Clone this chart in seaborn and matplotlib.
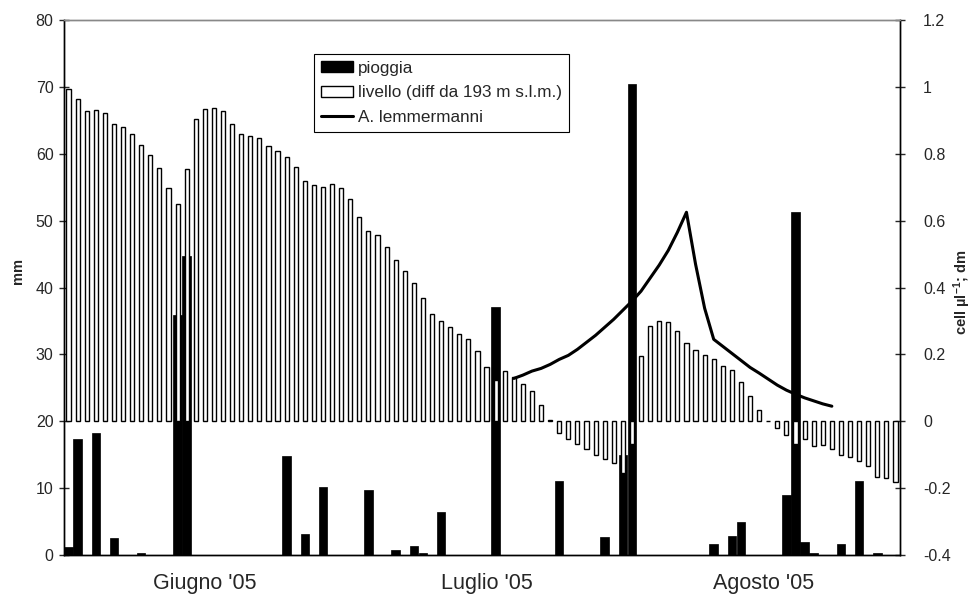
import numpy as np
import matplotlib
matplotlib.use("Agg")
import matplotlib.pyplot as plt
import seaborn as sns
from matplotlib.patches import Patch
from matplotlib.lines import Line2D
from matplotlib.ticker import FuncFormatter

# daily values, 1 June - 31 August 2005 (92 days)
days = list(range(92))

# pioggia (mm)
rain = [1.25, 17.3, 0, 18.3, 0, 2.6, 0, 0, 0.3, 0,
        0, 0, 35.9, 44.7, 0, 0, 0, 0, 0, 0,
        0, 0, 0, 0, 14.85, 0, 3.1, 0, 10.1, 0,
        0, 0, 0, 9.7, 0, 0, 0.7, 0, 1.35, 0.3,
        0, 6.5, 0, 0, 0, 0, 0, 37.1, 0, 0,
        0, 0, 0, 0, 11.1, 0, 0, 0, 0, 2.7,
        0, 15.0, 70.5, 0, 0, 0, 0, 0, 0, 0,
        0, 1.7, 0, 2.9, 4.9, 0, 0, 0, 0, 8.9,
        51.3, 1.9, 0.3, 0, 0, 1.7, 0, 11.1, 0, 0.3,
        0, 0]

# livello (dm, diff da 193 m s.l.m.)
level = [0.993, 0.963, 0.928, 0.931, 0.922, 0.889, 0.880, 0.860, 0.827, 0.796,
         0.757, 0.698, 0.650, 0.753, 0.903, 0.933, 0.938, 0.928, 0.889, 0.859,
         0.854, 0.846, 0.822, 0.807, 0.789, 0.760, 0.719, 0.707, 0.701, 0.711,
         0.697, 0.665, 0.611, 0.568, 0.558, 0.521, 0.482, 0.448, 0.414, 0.369,
         0.320, 0.301, 0.282, 0.262, 0.246, 0.209, 0.162, 0.123, 0.150, 0.133,
         0.110, 0.091, 0.050, 0.003, -0.034, -0.052, -0.067, -0.082, -0.102, -0.112,
         -0.124, -0.156, -0.067, 0.195, 0.284, 0.299, 0.297, 0.270, 0.234, 0.212,
         0.199, 0.186, 0.164, 0.152, 0.116, 0.076, 0.033, 0.0, -0.019, -0.042,
         -0.067, -0.054, -0.074, -0.072, -0.082, -0.100, -0.107, -0.119, -0.133, -0.167,
         -0.171, -0.182]

# A. lemmermanni (cell/ul)
algae_days = list(range(49, 85))
algae = [0.128, 0.138, 0.150, 0.158, 0.170, 0.185, 0.197, 0.215, 0.236, 0.257,
         0.281, 0.305, 0.332, 0.359, 0.389, 0.428, 0.467, 0.511, 0.565, 0.625,
         0.470, 0.338, 0.245, 0.224, 0.203, 0.182, 0.161, 0.144, 0.126, 0.108,
         0.093, 0.081, 0.070, 0.061, 0.052, 0.045]

month_labels = ["Giugno '05", "Luglio '05", "Agosto '05"]
month_pos = [15, 46, 76.5]
month_edges = [-0.5, 30.5, 61.5, 91.5]

sns.set_style("white")
plt.rcParams['font.family'] = ['Liberation Sans', 'DejaVu Sans']
plt.rcParams['mathtext.fontset'] = 'custom'
plt.rcParams['mathtext.rm'] = 'Liberation Sans:bold'
plt.rcParams['mathtext.default'] = 'rm'

fig = plt.figure(figsize=(9.72, 6.03), dpi=100)
ax = fig.add_axes([64 / 972, 48 / 603, 836 / 972, 535 / 603])
ax2 = ax.twinx()

sns.barplot(x=days, y=rain, color='black', edgecolor='black', linewidth=0.5,
            width=0.93, saturation=1, errorbar=None, ax=ax)
sns.barplot(x=days, y=level, color='white', edgecolor='black', linewidth=1.0,
            width=0.45, saturation=1, errorbar=None, ax=ax2)
sns.lineplot(x=algae_days, y=algae, color='black', linewidth=2.2, ax=ax2)

ax.set_xlim(-0.5, 91.5)
ax.set_ylim(0, 80)
ax2.set_ylim(-0.4, 1.2)
ax.set_yticks(np.arange(0, 81, 10))
ax2.set_yticks(np.arange(-0.4, 1.21, 0.2))
ax2.yaxis.set_major_formatter(FuncFormatter(lambda v, p: f'{round(v, 1):g}'))

ax.set_xticks(month_edges)
ax.set_xticklabels([])
ax.set_xticks(month_pos, minor=True)
ax.set_xticklabels(month_labels, minor=True, fontsize=15.5)
ax.tick_params(axis='x', which='minor', length=0, pad=13)
ax.tick_params(axis='x', which='major', direction='inout', length=8, width=1, color='#555555')
ax.tick_params(axis='y', direction='inout', length=7, width=1, labelsize=11.5, pad=4)
ax2.tick_params(axis='y', direction='inout', length=7, width=1, labelsize=11.5, pad=13)

ax.set_xlabel('')
ax2.set_xlabel('')
ax.set_ylabel('mm', fontsize=10.5, fontweight='bold')
ax.yaxis.set_label_coords(-0.047, 0.53)
ax2.set_ylabel('cell µl$^{-1}$; dm', fontsize=10.5, fontweight='bold')
ax2.yaxis.set_label_coords(1.061, 0.49)

for a in (ax, ax2):
    for side in ('left', 'right', 'bottom'):
        a.spines[side].set_color('black')
        a.spines[side].set_linewidth(1)
    a.spines['top'].set_color('#888888')
    a.spines['top'].set_linewidth(1)

handles = [Patch(facecolor='black', edgecolor='black'),
           Patch(facecolor='white', edgecolor='black', linewidth=1),
           Line2D([], [], color='black', linewidth=2.2)]
labels = ['pioggia', 'livello (diff da 193 m s.l.m.)', 'A. lemmermanni']
leg = ax2.legend(handles, labels, loc='upper left', bbox_to_anchor=(0.299, 0.937),
                 borderaxespad=0, fancybox=False, edgecolor='black', framealpha=1,
                 fontsize=12.3, handlelength=1.9, handleheight=0.6, handletextpad=0.3,
                 borderpad=0.4, labelspacing=0.57)
leg.get_frame().set_linewidth(0.8)

fig.savefig('out.png', dpi=100)
